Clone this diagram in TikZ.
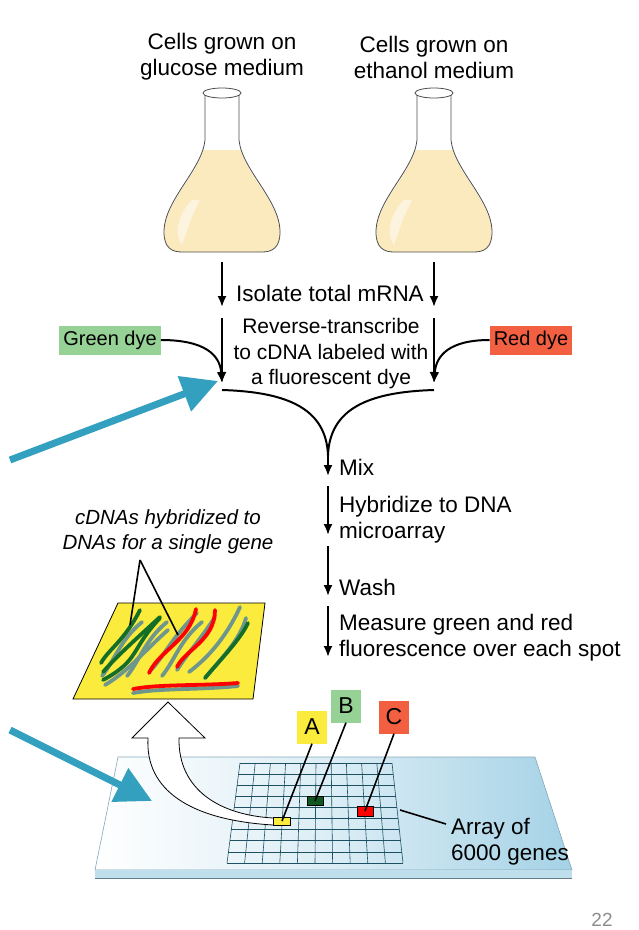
\documentclass[tikz,border=0pt]{standalone}
\usepackage{fontspec}
\setmainfont{Liberation Sans}
\usetikzlibrary{arrows.meta}
\definecolor{teal1}{RGB}{50,160,190}
\definecolor{gdye}{RGB}{150,210,150}
\definecolor{rdye}{RGB}{242,95,65}
\definecolor{ylw}{RGB}{250,235,60}
\definecolor{liq}{RGB}{250,234,190}
\definecolor{grid}{RGB}{30,80,100}
\definecolor{slideb}{RGB}{165,210,230}
\definecolor{dg}{RGB}{20,110,40}
\definecolor{gg}{RGB}{110,150,140}
\begin{document}
\begin{tikzpicture}[x=1pt,y=-1pt,
  lbl/.style={font=\fontsize{22.5}{26}\selectfont,inner sep=1pt},
  flow/.style={line width=2pt,-{Latex[length=11pt,width=9pt]}},
  curve/.style={line width=2pt},
  big/.style={teal1,line width=7pt,-{Triangle[length=36pt,width=36pt]}},
  lead/.style={line width=1.6pt},
  tag/.style={font=\fontsize{23}{26}\selectfont,minimum width=30pt,minimum height=33pt,inner sep=0pt}]
\useasboundingbox (0,0) rectangle (638,930);
% titles
\node[lbl,align=center] (t1) at (222,57) {Cells grown on\\glucose medium};
\node[lbl,align=center] (t2) at (434,57) {Cells grown on\\ethanol medium};
% flasks
\foreach \cx/\nm in {222/f1,434/f2}{
  \begin{scope}[shift={(\cx,0)}]
  \path[fill=liq] (-19,150) .. controls (-25,175) and (-58,205) .. (-58,232) .. controls (-58,248) and (-50,252) .. (-40,252) -- (40,252) .. controls (50,252) and (58,248) .. (58,232) .. controls (58,205) and (25,175) .. (19,150) -- cycle;
  \path[fill=white,opacity=0.5] (-30,200) .. controls (-45,215) and (-48,235) .. (-40,245) .. controls (-35,230) and (-30,215) .. (-22,200) -- cycle;
  \draw[line width=0.8pt,draw=black!70] (-17,95) -- (-17,140) .. controls (-20,170) and (-58,200) .. (-58,232) .. controls (-58,248) and (-50,252) .. (-40,252) -- (40,252) .. controls (50,252) and (58,248) .. (58,232) .. controls (58,200) and (20,170) .. (17,140) -- (17,95);
  \draw[line width=0.8pt,draw=black!70,fill=white] (0,93) ellipse (19 and 5);
  \coordinate (\nm) at (0,262);
  \end{scope}}
% first arrows
\coordinate (a1) at (222,307); \coordinate (a2) at (434,307);
\draw[flow] (f1) -- (a1); \draw[flow] (f2) -- (a2);
\node[lbl] (iso) at (330,293) {Isolate total mRNA};
\node[lbl,align=center,font=\fontsize{21}{25.5}\selectfont] (rt) at (331,354) {Reverse-transcribe\\to cDNA labeled with\\a fluorescent dye};
\node[lbl,fill=gdye,minimum height=29pt,inner sep=4pt,font=\fontsize{20}{22}\selectfont] (gd) at (110,340) {Green dye};
\node[lbl,fill=rdye,minimum height=29pt,inner sep=4pt,font=\fontsize{20}{22}\selectfont] (rd) at (531,340) {Red dye};
\coordinate (b1) at (222,318); \coordinate (b2) at (434,318);
\coordinate (c1) at (222,383); \coordinate (c2) at (434,383);
\draw[flow] (b1) -- (c1); \draw[flow] (b2) -- (c2);
\draw[flow] (gd.east) .. controls (205,340) and (220,355) .. (c1);
\draw[flow] (rd.west) .. controls (450,340) and (436,355) .. (c2);
% merge
\coordinate (m1) at (222,390); \coordinate (m2) at (434,390); \coordinate (mx) at (328,476);
\draw[curve] (m1) .. controls (290,392) and (326,410) .. (328,455);
\draw[curve] (m2) .. controls (366,392) and (330,410) .. (328,455);
\draw[flow] (328,450) -- (mx);
\node[lbl,anchor=west] (mix) at (338,467) {Mix};
\coordinate (h0) at (328,486); \coordinate (h1) at (328,535);
\draw[flow] (h0) -- (h1);
\node[lbl,anchor=west,align=left] (hyb) at (338,520) {Hybridize to DNA\\microarray};
\coordinate (w0) at (328,546); \coordinate (w1) at (328,596);
\draw[flow] (w0) -- (w1);
\node[lbl,anchor=west] (wash) at (338,587) {Wash};
\coordinate (s0) at (328,606); \coordinate (s1) at (328,657);
\draw[flow] (s0) -- (s1);
\node[lbl,anchor=west,align=left] (meas) at (338,638) {Measure green and red\\fluorescence over each spot};
% cDNA label
\node[lbl,align=center,font=\fontsize{20.5}{25}\selectfont\itshape] (cd) at (168,532) {cDNAs hybridized to\\DNAs for a single gene};
% slide
\shade[left color=white,right color=slideb,middle color=white!60!slideb] (118,757) -- (535,757) -- (572,870) -- (95,870) -- cycle;
\draw[slideb!80!black,line width=0.6pt] (118,757) -- (535,757) -- (572,870) -- (95,870) -- cycle;
\fill[slideb!70] (95,870) -- (572,870) -- (572,878) -- (95,878) -- cycle;
\draw[slideb!60!black,line width=0.4pt] (95,878) -- (572,878);
% grid
\foreach \i in {0,...,10}{
  \pgfmathsetmacro{\xt}{240+\i*15.2}\pgfmathsetmacro{\xb}{227+\i*17.6}
  \draw[grid,line width=0.6pt] (\xt,763) -- (\xb,863);}
\foreach \j in {0,...,9}{
  \pgfmathsetmacro{\yy}{763+\j*11.11}\pgfmathsetmacro{\xl}{240-\j*1.444}\pgfmathsetmacro{\xr}{392+\j*1.222}
  \draw[grid,line width=0.6pt] (\xl,\yy) -- (\xr,\yy);}
% hollow arrow
\draw[line width=0.8pt,fill=white] (273,825) .. controls (190,820) and (145,790) .. (148,738) -- (132,738) -- (168,702) -- (205,738) -- (179,738) .. controls (178,790) and (220,815) .. (273,818);
% spots
\node[draw,fill=ylw,minimum width=17pt,minimum height=8pt,inner sep=0pt] (sa) at (282,821) {};
\node[draw,fill=dg!80!black,minimum width=16pt,minimum height=9pt,inner sep=0pt] (sb) at (315,801) {};
\node[draw,fill=red,minimum width=16pt,minimum height=10pt,inner sep=0pt] (sc) at (365,811) {};
\node[tag,fill=ylw] (A) at (312,727) {A};
\node[tag,fill=gdye] (B) at (346,706) {B};
\node[tag,fill=rdye] (C) at (394,717) {C};
\draw[lead] (A.south) -- (sa.center);
\draw[lead] (B.south) -- (sb.center);
\draw[lead] (C.south) -- (sc.center);
\node[lbl,align=left,anchor=west] (arr) at (450,842) {Array of\\6000 genes};
\coordinate (g0) at (400,810);
\draw[lead] (g0) -- (446,824);
% yellow panel
\draw[line width=0.8pt,fill=ylw] (118,603) -- (265,603) -- (253,699) -- (73,699) -- cycle;
\begin{scope}[line cap=round,line width=3.8pt]
 \foreach \x/\c in {0/dg,25/dg,60/gg}{
  \draw[gg] (\x+102,676) .. controls (\x+115,660) and (\x+120,640) .. (\x+142,622);}
 \draw[dg] (103,672) .. controls (118,655) and (135,640) .. (160,617);
 \draw[dg] (103,680) .. controls (140,660) and (130,650) .. (160,618);
 \draw[dg] (101,663) .. controls (108,650) and (125,640) .. (140,610);
 \draw[gg] (105,685) .. controls (130,670) and (145,650) .. (168,630);
 \draw[gg] (151,670) .. controls (165,655) and (170,640) .. (197,613);
 \draw[red] (149,673) .. controls (160,650) and (190,640) .. (196,609);
 \draw[gg] (177,670) .. controls (190,650) and (200,640) .. (215,617);
 \draw[red] (177,667) .. controls (185,650) and (215,640) .. (215,610);
 \draw[gg] (189,672) .. controls (205,660) and (225,640) .. (240,607);
 \draw[gg] (205,678) .. controls (220,660) and (240,640) .. (246,618);
 \draw[dg] (205,678) .. controls (220,660) and (240,640) .. (248,623);
 \draw[gg] (133,693) .. controls (160,688) and (200,690) .. (238,686);
 \draw[red] (133,689) .. controls (160,684) and (200,686) .. (238,683);
\end{scope}
\coordinate (ap) at (140,560);
\draw[lead] (ap) -- (130,625);
\draw[lead] (ap) -- (178,635);
% teal arrows
\coordinate (ts1) at (10,460); \coordinate (te1) at (218,381);
\coordinate (ts2) at (10,730); \coordinate (te2) at (152,801);
\draw[big] (ts1) -- (te1);
\draw[big] (ts2) -- (te2);
\node[lbl,text=black!45,font=\fontsize{19}{20}\selectfont] (pg) at (602,920) {22};
\end{tikzpicture}
\end{document}
